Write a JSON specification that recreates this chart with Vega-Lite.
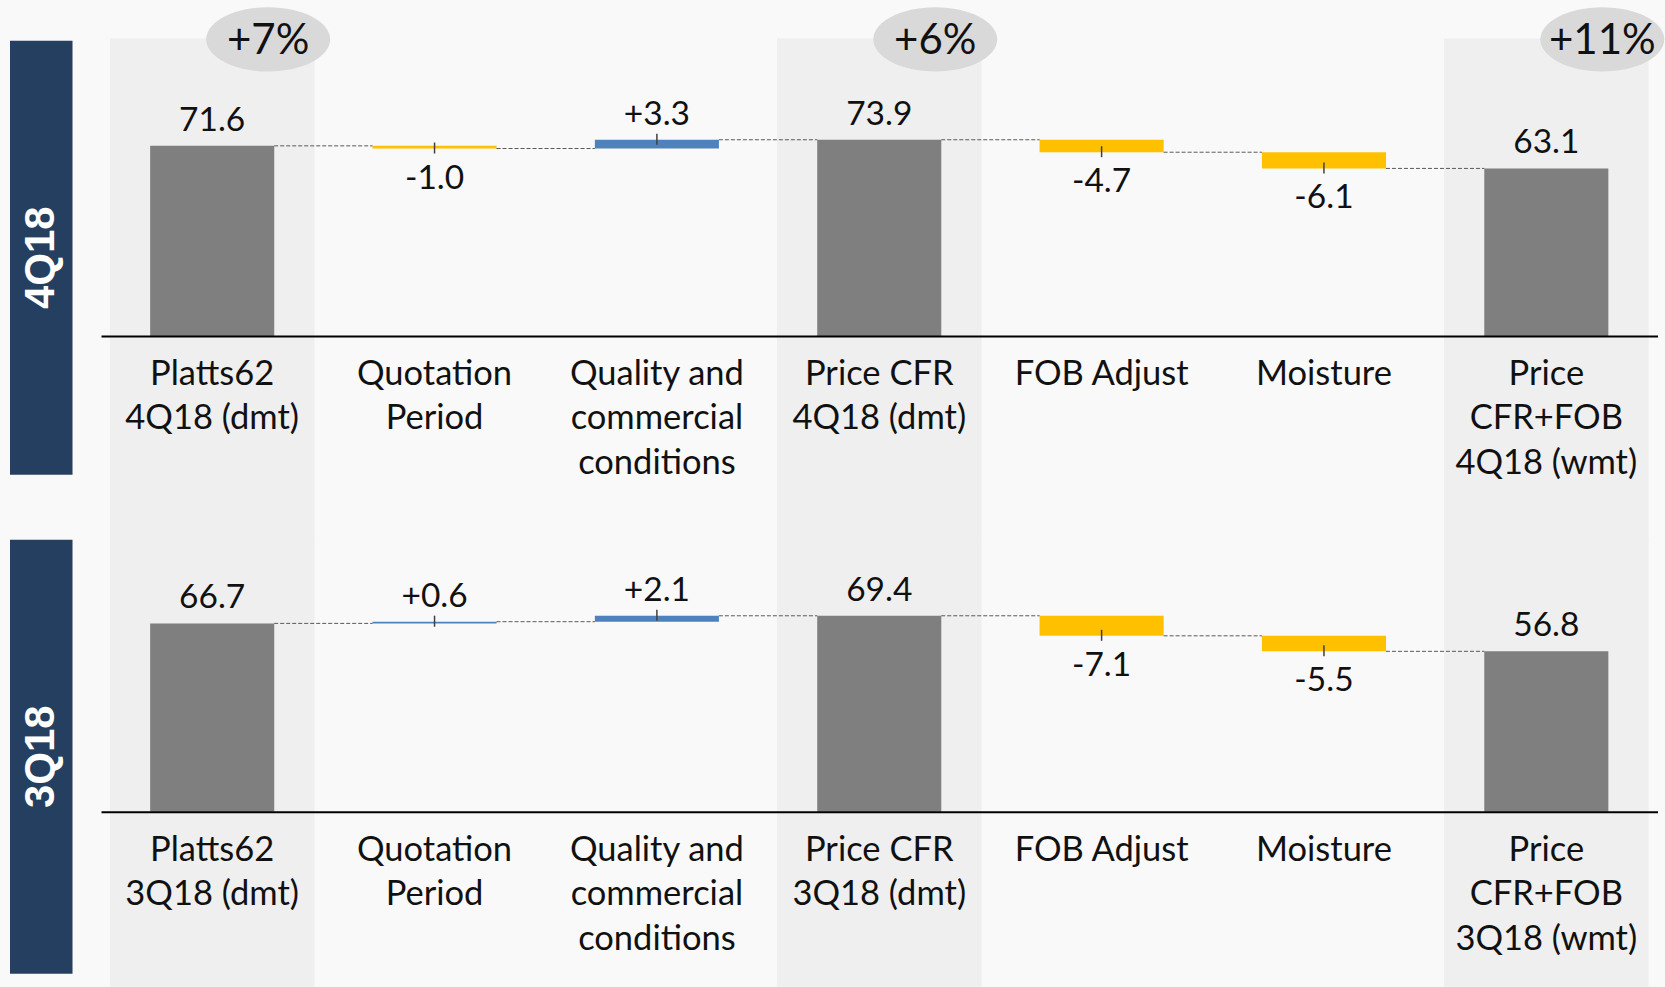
{
  "$schema": "https://vega.github.io/schema/vega-lite/v6.json",
  "background": "#f9f9f9",
  "padding": {"left": 10, "top": 6.7, "right": 0, "bottom": 0},
  "bounds": "flush",
  "align": "each",
  "columns": 2,
  "spacing": {"row": 65, "column": 28},
  "config": {
    "view": {"stroke": null},
    "locale": {"number": {"decimal": ".", "thousands": ",", "grouping": [3], "currency": ["$", ""], "minus": "-"}},
    "text": {"font": "Lato", "color": "#111111"}
  },
  "concat": [
    {
      "width": 62.5,
      "height": 434,
      "view": {"fill": "#243f60", "stroke": null},
      "data": {"values": [{"period": "4Q18"}]},
      "mark": {"type": "text", "angle": 270, "font": "Liberation Sans", "fontWeight": "bold", "fontSize": 42, "color": "#ffffff", "align": "center", "baseline": "middle"},
      "encoding": {"text": {"field": "period"}}
    },
    {
      "width": 1556.5,
      "height": 295.3,
      "data": {"values": [
        {"cat": "Platts62\n4Q18 (dmt)", "type": "total", "start": 0, "end": 71.6, "value": 71.6, "next": "Quotation\nPeriod", "qoq": "+7%"},
        {"cat": "Quotation\nPeriod", "type": "down", "start": 71.6, "end": 70.6, "value": -1.0, "next": "Quality and\ncommercial\nconditions"},
        {"cat": "Quality and\ncommercial\nconditions", "type": "up", "start": 70.6, "end": 73.9, "value": 3.3, "next": "Price CFR\n4Q18 (dmt)"},
        {"cat": "Price CFR\n4Q18 (dmt)", "type": "total", "start": 0, "end": 73.9, "value": 73.9, "next": "FOB Adjust", "qoq": "+6%"},
        {"cat": "FOB Adjust", "type": "down", "start": 73.9, "end": 69.2, "value": -4.7, "next": "Moisture"},
        {"cat": "Moisture", "type": "down", "start": 69.2, "end": 63.1, "value": -6.1, "next": "Price\nCFR+FOB\n4Q18 (wmt)"},
        {"cat": "Price\nCFR+FOB\n4Q18 (wmt)", "type": "total", "start": 0, "end": 63.1, "value": 63.1, "qoq": "+11%"}
      ]},
      "encoding": {
        "x": {
          "field": "cat", "type": "nominal",
          "scale": {"domain": ["Platts62\n4Q18 (dmt)", "Quotation\nPeriod", "Quality and\ncommercial\nconditions", "Price CFR\n4Q18 (dmt)", "FOB Adjust", "Moisture", "Price\nCFR+FOB\n4Q18 (wmt)"], "paddingInner": 0, "paddingOuter": 0},
          "axis": {"title": null, "labelAngle": 0, "labelFont": "Lato", "labelFontSize": 34.5, "labelColor": "#111111", "labelLineHeight": 44.5, "labelBaseline": "top", "labelAlign": "center", "labelPadding": 21.5, "labelExpr": "split(datum.label, '\\n')", "labelLimit": 300, "labelOverlap": false, "ticks": false, "domainColor": "#000000", "domainWidth": 2, "zindex": 1}
        }
      },
      "layer": [
        {
          "transform": [{"filter": "datum.type == 'total'"}],
          "mark": {"type": "bar", "width": {"band": 0.92}, "color": "#efefef"},
          "encoding": {
            "y": {"datum": 112, "type": "quantitative", "scale": {"domain": [0, 111.2], "nice": false}, "axis": null},
            "y2": {"datum": -77}
          }
        },
        {
          "mark": {"type": "bar", "width": {"band": 0.558}},
          "encoding": {
            "y": {"field": "start", "type": "quantitative", "scale": {"domain": [0, 111.2], "nice": false}, "axis": null},
            "y2": {"field": "end"},
            "color": {"field": "type", "type": "nominal", "scale": {"domain": ["total", "up", "down"], "range": ["#7f7f7f", "#4f81bd", "#ffc000"]}, "legend": null}
          }
        },
        {
          "transform": [{"filter": "isValid(datum.next)"}],
          "mark": {"type": "rule", "color": "#595959", "strokeWidth": 1, "strokeDash": [4, 2], "xOffset": 62, "x2Offset": -62},
          "encoding": {
            "x2": {"field": "next"},
            "y": {"field": "end", "type": "quantitative", "scale": {"domain": [0, 111.2], "nice": false}, "axis": null}
          }
        },
        {
          "transform": [{"filter": "datum.type != 'total'"}],
          "mark": {"type": "rule", "color": "#404040", "strokeWidth": 1.5, "yOffset": -6, "y2Offset": 5},
          "encoding": {
            "y": {"field": "end", "type": "quantitative", "scale": {"domain": [0, 111.2], "nice": false}, "axis": null},
            "y2": {"field": "end"}
          }
        },
        {
          "transform": [{"filter": "datum.type == 'total'"}],
          "mark": {"type": "text", "fontSize": 33.5, "baseline": "alphabetic", "dy": -15},
          "encoding": {
            "y": {"field": "end", "type": "quantitative", "scale": {"domain": [0, 111.2], "nice": false}, "axis": null},
            "text": {"field": "value", "type": "quantitative", "format": ".1f"}
          }
        },
        {
          "transform": [{"filter": "datum.type == 'up'"}],
          "mark": {"type": "text", "fontSize": 33.5, "baseline": "alphabetic", "dy": -15},
          "encoding": {
            "y": {"field": "end", "type": "quantitative", "scale": {"domain": [0, 111.2], "nice": false}, "axis": null},
            "text": {"field": "value", "type": "quantitative", "format": "+.1f"}
          }
        },
        {
          "transform": [{"filter": "datum.type == 'down'"}],
          "mark": {"type": "text", "fontSize": 33.5, "baseline": "alphabetic", "dy": 40},
          "encoding": {
            "y": {"field": "end", "type": "quantitative", "scale": {"domain": [0, 111.2], "nice": false}, "axis": null},
            "text": {"field": "value", "type": "quantitative", "format": "+.1f"}
          }
        },
        {
          "transform": [{"filter": "isValid(datum.qoq)"}],
          "mark": {"type": "point", "shape": "M-1,0A1,0.52,0,1,1,1,0A1,0.52,0,1,1,-1,0Z", "size": 15376, "filled": true, "opacity": 1, "color": "#d9d9d9", "xOffset": 56},
          "encoding": {
            "y": {"datum": 111.7, "type": "quantitative", "scale": {"domain": [0, 111.2], "nice": false}, "axis": null}
          }
        },
        {
          "transform": [{"filter": "isValid(datum.qoq)"}],
          "mark": {"type": "text", "fontSize": 42, "baseline": "middle", "dy": 2, "xOffset": 56},
          "encoding": {
            "y": {"datum": 111.7, "type": "quantitative", "scale": {"domain": [0, 111.2], "nice": false}, "axis": null},
            "text": {"field": "qoq"}
          }
        }
      ]
    },
    {
      "width": 62.5,
      "height": 434,
      "view": {"fill": "#243f60", "stroke": null},
      "data": {"values": [{"period": "3Q18"}]},
      "mark": {"type": "text", "angle": 270, "font": "Liberation Sans", "fontWeight": "bold", "fontSize": 42, "color": "#ffffff", "align": "center", "baseline": "middle"},
      "encoding": {"text": {"field": "period"}}
    },
    {
      "width": 1556.5,
      "height": 272,
      "data": {"values": [
        {"cat": "Platts62\n3Q18 (dmt)", "type": "total", "start": 0, "end": 66.7, "value": 66.7, "next": "Quotation\nPeriod"},
        {"cat": "Quotation\nPeriod", "type": "up", "start": 66.7, "end": 67.3, "value": 0.6, "next": "Quality and\ncommercial\nconditions"},
        {"cat": "Quality and\ncommercial\nconditions", "type": "up", "start": 67.3, "end": 69.4, "value": 2.1, "next": "Price CFR\n3Q18 (dmt)"},
        {"cat": "Price CFR\n3Q18 (dmt)", "type": "total", "start": 0, "end": 69.4, "value": 69.4, "next": "FOB Adjust"},
        {"cat": "FOB Adjust", "type": "down", "start": 69.4, "end": 62.3, "value": -7.1, "next": "Moisture"},
        {"cat": "Moisture", "type": "down", "start": 62.3, "end": 56.8, "value": -5.5, "next": "Price\nCFR+FOB\n3Q18 (wmt)"},
        {"cat": "Price\nCFR+FOB\n3Q18 (wmt)", "type": "total", "start": 0, "end": 56.8, "value": 56.8}
      ]},
      "encoding": {
        "x": {
          "field": "cat", "type": "nominal",
          "scale": {"domain": ["Platts62\n3Q18 (dmt)", "Quotation\nPeriod", "Quality and\ncommercial\nconditions", "Price CFR\n3Q18 (dmt)", "FOB Adjust", "Moisture", "Price\nCFR+FOB\n3Q18 (wmt)"], "paddingInner": 0, "paddingOuter": 0},
          "axis": {"title": null, "labelAngle": 0, "labelFont": "Lato", "labelFontSize": 34.5, "labelColor": "#111111", "labelLineHeight": 44.5, "labelBaseline": "top", "labelAlign": "center", "labelPadding": 21.5, "labelExpr": "split(datum.label, '\\n')", "labelLimit": 300, "labelOverlap": false, "ticks": false, "domainColor": "#000000", "domainWidth": 2, "zindex": 1}
        }
      },
      "layer": [
        {
          "transform": [{"filter": "datum.type == 'total'"}],
          "mark": {"type": "bar", "width": {"band": 0.92}, "color": "#efefef"},
          "encoding": {
            "y": {"datum": 97, "type": "quantitative", "scale": {"domain": [0, 96.35], "nice": false}, "axis": null},
            "y2": {"datum": -62}
          }
        },
        {
          "mark": {"type": "bar", "width": {"band": 0.558}},
          "encoding": {
            "y": {"field": "start", "type": "quantitative", "scale": {"domain": [0, 96.35], "nice": false}, "axis": null},
            "y2": {"field": "end"},
            "color": {"field": "type", "type": "nominal", "scale": {"domain": ["total", "up", "down"], "range": ["#7f7f7f", "#4f81bd", "#ffc000"]}, "legend": null}
          }
        },
        {
          "transform": [{"filter": "isValid(datum.next)"}],
          "mark": {"type": "rule", "color": "#595959", "strokeWidth": 1, "strokeDash": [4, 2], "xOffset": 62, "x2Offset": -62},
          "encoding": {
            "x2": {"field": "next"},
            "y": {"field": "end", "type": "quantitative", "scale": {"domain": [0, 96.35], "nice": false}, "axis": null}
          }
        },
        {
          "transform": [{"filter": "datum.type != 'total'"}],
          "mark": {"type": "rule", "color": "#404040", "strokeWidth": 1.5, "yOffset": -6, "y2Offset": 5},
          "encoding": {
            "y": {"field": "end", "type": "quantitative", "scale": {"domain": [0, 96.35], "nice": false}, "axis": null},
            "y2": {"field": "end"}
          }
        },
        {
          "transform": [{"filter": "datum.type == 'total'"}],
          "mark": {"type": "text", "fontSize": 33.5, "baseline": "alphabetic", "dy": -15},
          "encoding": {
            "y": {"field": "end", "type": "quantitative", "scale": {"domain": [0, 96.35], "nice": false}, "axis": null},
            "text": {"field": "value", "type": "quantitative", "format": ".1f"}
          }
        },
        {
          "transform": [{"filter": "datum.type == 'up'"}],
          "mark": {"type": "text", "fontSize": 33.5, "baseline": "alphabetic", "dy": -15},
          "encoding": {
            "y": {"field": "end", "type": "quantitative", "scale": {"domain": [0, 96.35], "nice": false}, "axis": null},
            "text": {"field": "value", "type": "quantitative", "format": "+.1f"}
          }
        },
        {
          "transform": [{"filter": "datum.type == 'down'"}],
          "mark": {"type": "text", "fontSize": 33.5, "baseline": "alphabetic", "dy": 40},
          "encoding": {
            "y": {"field": "end", "type": "quantitative", "scale": {"domain": [0, 96.35], "nice": false}, "axis": null},
            "text": {"field": "value", "type": "quantitative", "format": "+.1f"}
          }
        }
      ]
    }
  ]
}
